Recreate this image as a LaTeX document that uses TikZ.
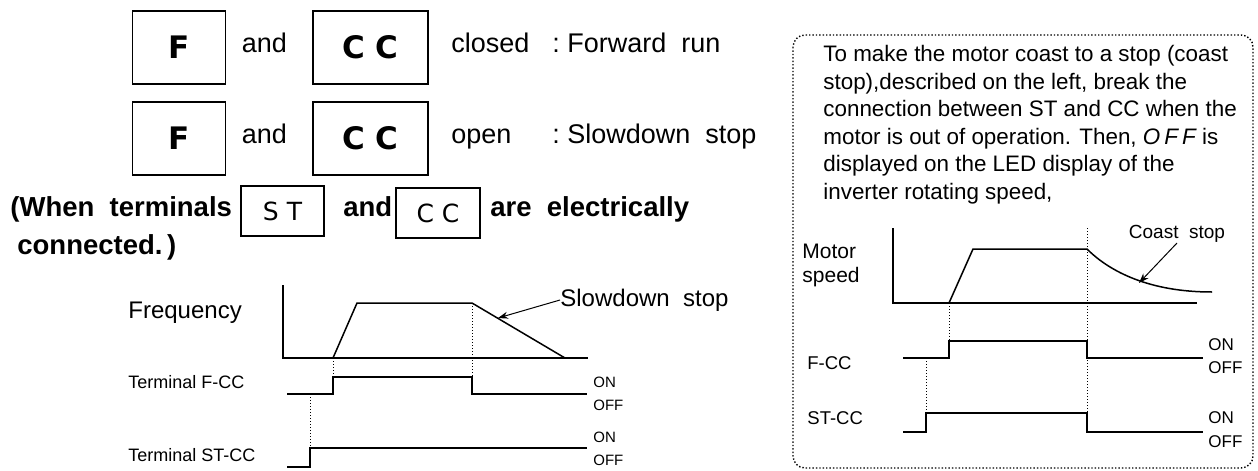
\documentclass[tikz,border=0pt]{standalone}
\usepackage{fontspec}
\setmainfont{Liberation Sans}
\newfontfamily\termfont{DejaVu Sans}
\usetikzlibrary{arrows.meta,positioning}
\tikzset{
  termbox/.style={rectangle, draw, line width=0.9pt, minimum width=46.5pt, minimum height=36.5pt,
    inner sep=0pt, font=\termfont\bfseries\fontsize{15.5}{18}\selectfont},
  smallterm/.style={termbox, line width=0.6pt, minimum width=41.5pt, minimum height=25pt,
    font=\termfont\fontsize{12.5}{15}\selectfont},
  plaintext/.style={inner sep=0pt, text height=0.75em, text depth=0.22em, font=\fontsize{13.5}{16}\selectfont},
  boldtext/.style={inner sep=0pt, text height=0.75em, text depth=0.22em, font=\bfseries\fontsize{13.75}{16}\selectfont},
  chartlabel/.style={inner sep=0pt, anchor=west, font=\fontsize{12}{14}\selectfont},
  termlabel/.style={inner sep=0pt, anchor=west, font=\fontsize{9}{11}\selectfont},
  onofflabel/.style={inner sep=0pt, anchor=west, font=\fontsize{7.5}{9}\selectfont},
  signal/.style={line width=0.75pt},
  guide/.style={densely dotted, line width=0.5pt},
  callout/.style={-{Stealth[length=5pt,width=3.5pt]}, line width=0.5pt},
  notebox/.style={densely dotted, line width=0.7pt, rounded corners=6pt},
}
\begin{document}
\begin{tikzpicture}[x=0.5pt, y=-0.5pt]
  \useasboundingbox (0,0) rectangle (1258,471);

  % switching conditions
  \node[termbox] (fone) at (179,47.5) {F};
  \node[plaintext, right=7.5pt of fone] (andone) {and};
  \node[termbox, minimum width=57.5pt] (ccone) at (370.5,47.5) {C C};
  \node[plaintext, anchor=west] (runtxt) at (451,47.5) {\makebox[50.5pt][l]{closed}:\ Forward\ \ run};

  \node[termbox] (ftwo) at (179,138.5) {F};
  \node[plaintext, right=7.5pt of ftwo] (andtwo) {and};
  \node[termbox, minimum width=57.5pt] (cctwo) at (370.5,138.5) {C C};
  \node[plaintext, anchor=west] (stoptxt) at (451,138.5) {\makebox[50.5pt][l]{open}:\ Slowdown\ \ stop};

  \node[boldtext, anchor=west] (whentxt) at (10,211) {(When\ \ terminals};
  \node[smallterm] (stterm) at (282.5,211) {S T};
  \node[boldtext, anchor=west] (andthree) at (343,211) {and};
  \node[smallterm, minimum width=42pt] (ccterm) at (438,213) {C C};
  \node[boldtext, anchor=west] (aretxt) at (490,211) {are\ \ electrically};
  \node[boldtext, anchor=west] (conntxt) at (17,249.5) {connected.\,)};

  % slowdown stop chart
  \node[chartlabel] (freqlbl) at (128,313) {Frequency};
  \draw[signal] (283,285) -- (283,358) -- (588,358);
  \draw[signal] (333,358) -- (357,303) -- (472,303) -- (565,358);
  \coordinate (slowpt) at (498,318);
  \node[chartlabel] (slowlbl) at (560,300) {Slowdown\ \ stop};
  \draw[callout] (slowlbl.west) -- (slowpt);
  \draw[guide] (333,358) -- (333,377);
  \draw[guide] (472,303) -- (472,377);
  \draw[guide] (310,394) -- (310,448);

  \node[termlabel] (fcclbl) at (128,382) {Terminal\ F-CC};
  \draw[signal] (287,394) -- (333,394) -- (333,377) -- (472,377) -- (472,394) -- (587,394);
  \node[onofflabel] (onone) at (593,382) {ON};
  \node[onofflabel] (offone) at (593,405) {OFF};

  \node[termlabel] (stcclbl) at (128,455) {Terminal\ ST-CC};
  \draw[signal] (287,467) -- (310,467) -- (310,448) -- (587,448);
  \node[onofflabel] (ontwo) at (593,437) {ON};
  \node[onofflabel] (offtwo) at (593,460) {OFF};

  % coast stop note
  \draw[notebox] (793,35) rectangle (1253,468);
  \node[inner sep=0pt, anchor=north west, align=left, font=\fontsize{11.2}{13.75}\selectfont] (notetxt) at (823,45)
    {To make the motor coast to a stop (coast\\
     stop),described on the left, break the\\
     connection between ST and CC when the\\
     motor is out of operation. Then, {\itshape\addfontfeature{LetterSpace=18}OFF} is\\
     displayed on the LED display of the\\
     inverter rotating speed,};

  \node[inner sep=0pt, anchor=west, align=left, font=\fontsize{10.5}{12}\selectfont] (speedlbl) at (802,265) {Motor\\speed};
  \draw[signal] (893,228) -- (893,303) -- (1197,303);
  \draw[signal] (949,303) -- (973,249) -- (1087,249) .. controls (1110,272) and (1150,292) .. (1212,292);
  \coordinate (coastpt) at (1139,283);
  \node[inner sep=0pt, font=\fontsize{9.5}{11}\selectfont] (coastlbl) at (1177,234) {Coast\ \ stop};
  \draw[callout] (coastlbl.south) -- (coastpt);
  \draw[guide] (949,303) -- (949,341);
  \draw[guide] (1087,228) -- (1087,413);
  \draw[guide] (926,358) -- (926,413);

  \node[termlabel, font=\fontsize{9.25}{11}\selectfont] (fcclbltwo) at (807,363) {F-CC};
  \draw[signal] (903,358) -- (949,358) -- (949,341) -- (1087,341) -- (1087,358) -- (1203,358);
  \node[onofflabel, font=\fontsize{8.5}{10}\selectfont] (onthree) at (1208,345) {ON};
  \node[onofflabel, font=\fontsize{8.5}{10}\selectfont] (offthree) at (1208,368) {OFF};

  \node[termlabel, font=\fontsize{9.25}{11}\selectfont] (stcclbltwo) at (807,418) {ST-CC};
  \draw[signal] (903,432) -- (926,432) -- (926,413) -- (1087,413) -- (1087,432) -- (1203,432);
  \node[onofflabel, font=\fontsize{8.5}{10}\selectfont] (onfour) at (1208,418) {ON};
  \node[onofflabel, font=\fontsize{8.5}{10}\selectfont] (offfour) at (1208,442) {OFF};
\end{tikzpicture}
\end{document}
